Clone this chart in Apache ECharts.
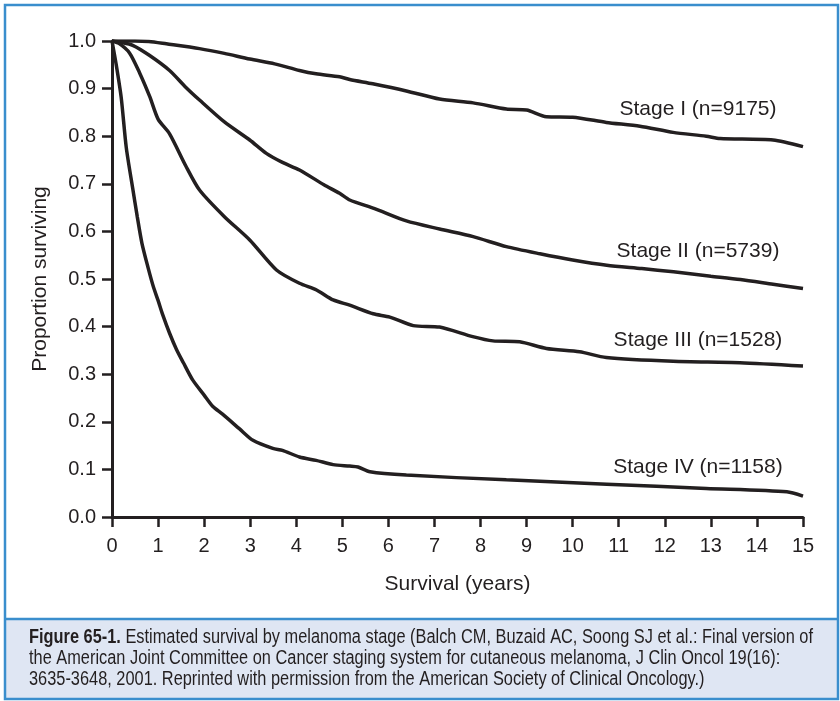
<!DOCTYPE html>
<html>
<head>
<meta charset="utf-8">
<title>Estimated survival by melanoma stage</title>
<script src="https://cdn.jsdelivr.net/npm/echarts@6/dist/echarts.min.js"></script>
<style>
	html, body { margin: 0; padding: 0; background: #fff; }
	#chart { width: 840px; height: 701px; }
</style>
</head>
<body>
<div id="chart"></div>
<script>
// x: years since diagnosis, y: proportion surviving
const stage1 = [[0, 1.0], [0.5, 1.0], [0.8, 0.999], [1.18, 0.994], [1.9, 0.984], [2.44, 0.974], [2.99, 0.962], [3.53, 0.952],
	[4.07, 0.938], [4.43, 0.931], [4.94, 0.925], [5.16, 0.919], [5.66, 0.91], [6.39, 0.895], [7.11, 0.878], [7.84, 0.87],
	[8.56, 0.857], [9.0, 0.855], [9.43, 0.841], [10.0, 0.84], [10.73, 0.829], [11.46, 0.821], [12.18, 0.808], [12.9, 0.8],
	[13.2, 0.795], [14.35, 0.792], [15, 0.778]];
const stage2 = [[0, 1.0], [0.2, 0.997], [0.45, 0.991], [0.81, 0.97], [1.25, 0.938], [1.6, 0.903], [1.9, 0.876], [2.44, 0.83],
	[2.99, 0.792], [3.35, 0.764], [3.7, 0.745], [4.07, 0.729], [4.6, 0.698], [4.94, 0.68], [5.16, 0.666], [5.7, 0.648],
	[6.39, 0.622], [7.11, 0.605], [7.84, 0.589], [8.56, 0.568], [9.29, 0.553], [10.0, 0.54], [10.74, 0.529], [11.5, 0.522],
	[12.19, 0.515], [13.0, 0.506], [13.64, 0.499], [14.35, 0.489], [15, 0.48]];
const stage3 = [[0, 1.0], [0.15, 0.995], [0.38, 0.975], [0.6, 0.933], [0.82, 0.883], [1.0, 0.836], [1.25, 0.805], [1.6, 0.738],
	[1.9, 0.687], [2.44, 0.631], [2.99, 0.582], [3.57, 0.519], [4.07, 0.491], [4.44, 0.477], [4.8, 0.456], [5.16, 0.445],
	[5.67, 0.427], [6.03, 0.42], [6.54, 0.402], [7.11, 0.399], [7.83, 0.379], [8.27, 0.37], [8.85, 0.368], [9.43, 0.354],
	[10.15, 0.347], [10.73, 0.335], [12.18, 0.327], [13.63, 0.324], [15, 0.317]];
const stage4 = [[0, 1.0], [0.09, 0.951], [0.2, 0.881], [0.31, 0.776], [0.45, 0.69], [0.55, 0.63], [0.65, 0.575], [0.78, 0.525],
	[0.9, 0.483], [1.0, 0.455], [1.1, 0.425], [1.25, 0.386], [1.4, 0.352], [1.55, 0.324], [1.75, 0.288], [2.0, 0.256],
	[2.19, 0.232], [2.4, 0.216], [2.77, 0.185], [3.06, 0.161], [3.49, 0.144], [3.7, 0.14], [4.07, 0.126],
	[4.43, 0.119], [4.8, 0.11], [5.16, 0.107], [5.34, 0.105], [5.6, 0.095], [6.39, 0.088], [8.56, 0.078], [10.74, 0.069],
	[12.9, 0.06], [14.65, 0.053], [15, 0.044]];

const stageNames = ["Stage I (n=9175)", "Stage II (n=5739)", "Stage III (n=1528)", "Stage IV (n=1158)"];
// where each curve label sits (year, proportion)
const labelAt = [[12.72, 0.856], [12.72, 0.558], [12.72, 0.371], [12.72, 0.105]];

const xTicks = [0, 15, 1];    // min, max, interval
const yTicks = [0, 1, 0.1];

const captionBold = "Figure 65-1.";
const captionLines = [
	" Estimated survival by melanoma stage (Balch CM, Buzaid AC, Soong SJ et al.: Final version of",
	"the American Joint Committee on Cancer staging system for cutaneous melanoma, J Clin Oncol 19(16):",
	"3635-3648, 2001. Reprinted with permission from the American Society of Clinical Oncology.)"
];

const ink = "#231f20";
const font = "'Liberation Sans', Arial, sans-serif";
const capSize = 19.5;

// no condensed face is installed, so squeeze the caption to the width of the printed one
function captionScale() {
	const ctx = document.createElement("canvas").getContext("2d");
	ctx.font = "bold " + capSize + "px " + font;
	let w = ctx.measureText(captionBold).width;
	ctx.font = capSize + "px " + font;
	w += ctx.measureText(captionLines[0]).width;
	return 784 / w;
}

const chart = echarts.init(document.getElementById("chart"), null, { renderer: "canvas" });

function curve(data, idx) {
	return {
		type: "line",
		data: data,
		smooth: 0.25,
		showSymbol: false,
		silent: true,
		lineStyle: { color: ink, width: 3.5 },
		markPoint: {
			symbol: "circle",
			symbolSize: 1,
			itemStyle: { color: "rgba(0,0,0,0)" },
			label: {
				show: true,
				position: "inside",
				formatter: stageNames[idx],
				color: ink,
				fontSize: 21,
				fontFamily: font
			},
			data: [{ coord: labelAt[idx] }]
		}
	};
}

chart.setOption({
	animation: false,
	backgroundColor: "#fff",
	grid: { left: 112, top: 41, width: 691, height: 476, containLabel: false },
	xAxis: {
		type: "value",
		min: xTicks[0],
		max: xTicks[1],
		interval: xTicks[2],
		name: "Survival (years)",
		nameLocation: "middle",
		nameGap: 57,
		nameTextStyle: { color: ink, fontSize: 21, fontFamily: font },
		axisLine: { lineStyle: { color: ink, width: 3 } },
		axisTick: { length: 10, lineStyle: { color: ink, width: 2.5 } },
		axisLabel: { margin: 19, color: ink, fontSize: 20, fontFamily: font },
		splitLine: { show: false }
	},
	yAxis: {
		type: "value",
		min: yTicks[0],
		max: yTicks[1],
		interval: yTicks[2],
		name: "Proportion surviving",
		nameLocation: "middle",
		nameGap: 61,
		nameTextStyle: { color: ink, fontSize: 21, fontFamily: font },
		axisLine: { show: true, lineStyle: { color: ink, width: 3 } },
		axisTick: { show: true, length: 10, lineStyle: { color: ink, width: 2.5 } },
		axisLabel: { margin: 16, color: ink, fontSize: 20, fontFamily: font, formatter: v => v.toFixed(1) },
		splitLine: { show: false }
	},
	series: [stage1, stage2, stage3, stage4].map(curve),
	graphic: [
		{
			type: "rect",
			z: -10,
			shape: { x: 5, y: 619, width: 833, height: 80 },
			style: { fill: "#dfe6f3" }
		},
		{
			type: "line",
			z: 10,
			shape: { x1: 5, y1: 619, x2: 838, y2: 619 },
			style: { stroke: "#3a8ecd", lineWidth: 2.5 }
		},
		{
			type: "rect",
			z: 10,
			shape: { x: 5, y: 5, width: 833, height: 694 },
			style: { fill: null, stroke: "#3a8ecd", lineWidth: 2.5 }
		},
		{
			type: "text",
			z: 10,
			x: 29,
			y: 627,
			scaleX: captionScale(),
			style: {
				text: "{b|" + captionBold + "}{n|" + captionLines[0] + "}\n{n|" + captionLines[1] + "}\n{n|" + captionLines[2] + "}",
				fill: ink,
				verticalAlign: "top",
				rich: {
					b: { fontWeight: "bold", fontSize: capSize, fontFamily: font, lineHeight: 21, fill: ink },
					n: { fontSize: capSize, fontFamily: font, lineHeight: 21, fill: ink }
				}
			}
		}
	]
});
</script>
</body>
</html>
